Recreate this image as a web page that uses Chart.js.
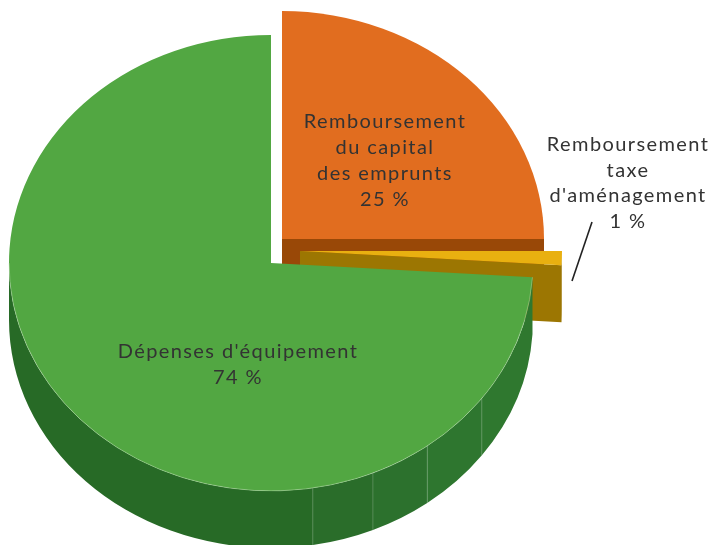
<!DOCTYPE html>
<html>
<head>
<meta charset="utf-8">
<script src="https://cdn.jsdelivr.net/npm/chart.js@4.4.0/dist/chart.umd.min.js"></script>
<style>
  html, body { margin: 0; padding: 0; background: #fff; }
  #pie { display: block; }
</style>
</head>
<body>
<canvas id="pie" width="714" height="545"></canvas>
<script>
const categories = [
  'Remboursement du capital des emprunts',
  "Remboursement taxe d'aménagement",
  "Dépenses d'équipement",
];
const labelLines = [
  ['Remboursement', 'du capital', 'des emprunts'],
  ['Remboursement', 'taxe', "d'aménagement"],
  ["Dépenses d'équipement"],
];
const shares = [25, 1, 74];
const percentLabels = ['25 %', '1 %', '74 %'];

const topColors = ['#e16d1f', '#e9b010', '#52a742'];
const sideColors = ['#994807', '#9c7602', '#2d7430'];

// fake 3d: squash the library's arcs and extrude them
const pie3d = {
  id: 'pie3d',
  beforeDatasetsDraw(chart, args, opts) {
    const ctx = chart.ctx;
    const arcs = chart.getDatasetMeta(0).data;
    const k = opts.tilt;
    const depth = opts.depth;
    const deg = Math.PI / 180;

    arcs.forEach((arc, i) => {
      const p = arc.getProps(['x', 'y', 'startAngle', 'endAngle', 'outerRadius']);
      const cx = p.x + opts.explode[i][0];
      const cy = p.y + opts.explode[i][1];
      const r = p.outerRadius;
      const s = p.startAngle, e = p.endAngle;
      const pt = (a, z) => [cx + r * Math.cos(a), cy + k * r * Math.sin(a) + z];

      // cut face at the end angle, only if it faces the viewer
      if (Math.cos(e) > 0.01) {
        const a = pt(e, 0), b = pt(e, depth);
        ctx.beginPath();
        ctx.moveTo(cx, cy);
        ctx.lineTo(a[0], a[1]);
        ctx.lineTo(b[0], b[1]);
        ctx.lineTo(cx, cy + depth);
        ctx.closePath();
        ctx.fillStyle = sideColors[i];
        ctx.fill();
      }

      // outer wall on the front half
      const a1 = Math.max(s, 0), a2 = Math.min(e, Math.PI);
      if (a2 > a1) {
        const bounds = [a1];
        if (opts.facets[i]) {
          opts.facetAngles.forEach(b => {
            if (b * deg > a1 + 0.01 && b * deg < a2) bounds.push(b * deg);
          });
        }
        bounds.push(a2);
        for (let j = 0; j < bounds.length - 1; j++) {
          const b1 = bounds[j], b2 = bounds[j + 1];
          ctx.beginPath();
          ctx.ellipse(cx, cy, r, k * r, 0, b1, b2);
          ctx.ellipse(cx, cy + depth, r, k * r, 0, b2, b1, true);
          ctx.closePath();
          ctx.fillStyle = opts.facets[i] ? opts.facetColors[j] : sideColors[i];
          ctx.fill();
          if (opts.facets[i] && j > 0) {
            const q1 = pt(b1, 0), q2 = pt(b1, depth);
            ctx.beginPath();
            ctx.moveTo(q1[0], q1[1]);
            ctx.lineTo(q2[0], q2[1]);
            ctx.strokeStyle = 'rgba(255,255,255,0.16)';
            ctx.lineWidth = 1;
            ctx.stroke();
          }
        }
      }

      // top face
      ctx.beginPath();
      ctx.moveTo(cx, cy);
      ctx.ellipse(cx, cy, r, k * r, 0, s, e);
      ctx.closePath();
      ctx.fillStyle = topColors[i];
      ctx.fill();

      if (a2 > a1 && opts.facets[i]) {
        ctx.beginPath();
        ctx.ellipse(cx, cy, r, k * r, 0, a1, a2);
        ctx.strokeStyle = 'rgba(200,230,190,0.5)';
        ctx.lineWidth = 0.8;
        ctx.stroke();
      }
    });

    // labels
    ctx.font = opts.font;
    ctx.letterSpacing = opts.letterSpacing;
    ctx.fillStyle = '#333333';
    ctx.textAlign = 'center';
    ctx.textBaseline = 'middle';
    labelLines.forEach((lines, i) => {
      const [lx, ly, lh] = opts.labelPos[i];
      lines.concat(percentLabels[i]).forEach((txt, n) => {
        ctx.fillText(txt, lx, ly + n * lh);
      });
    });
    ctx.letterSpacing = '0px';
    const ld = opts.leader;
    ctx.beginPath();
    ctx.moveTo(ld[0], ld[1]);
    ctx.lineTo(ld[2], ld[3]);
    ctx.strokeStyle = '#222222';
    ctx.lineWidth = 1.6;
    ctx.stroke();

    return false;
  },
};

const data = {
  labels: categories,
  datasets: [
    {
      data: shares,
      backgroundColor: topColors,
      borderWidth: 0,
    },
  ],
};

const config = {
  type: 'pie',
  data: data,
  options: {
    responsive: false,
    animation: false,
    events: [],
    layout: { padding: { left: 9, top: 1, right: 181, bottom: 20 } },
    plugins: {
      legend: { display: false },
      tooltip: { enabled: false },
      pie3d: {
        tilt: 0.87,
        depth: 57,
        explode: [[11, -24], [29, -12], [0, 0]],
        facets: [false, false, true],
        facetAngles: [36.4, 53.4, 67.1, 80.8],
        facetColors: ['#2f782f', '#2e762f', '#2c712d', '#2a6d2a', '#276a26'],
        font: '20px Lato',
        letterSpacing: '1.4px',
        labelPos: [[385, 122, 26], [628, 145, 25.5], [238, 352, 26]],
        leader: [592, 222, 572, 281],
      },
    },
  },
  plugins: [pie3d],
};

const myChart = new Chart(document.getElementById('pie'), config);
</script>
</body>
</html>
